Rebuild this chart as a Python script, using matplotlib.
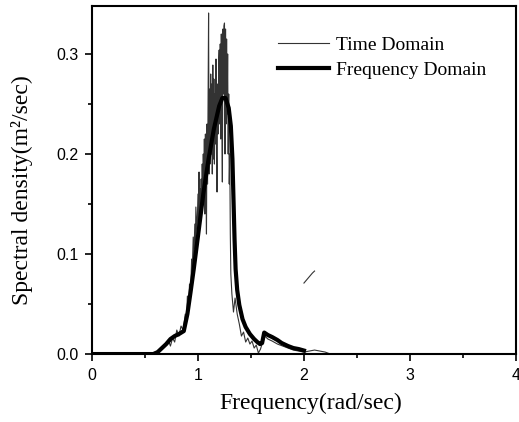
import matplotlib
matplotlib.use("Agg")
import matplotlib.pyplot as plt
from matplotlib.ticker import MultipleLocator

# Frequency-domain (thick) spectrum
freq_fd = [0.0, 0.55, 0.58, 0.62, 0.66, 0.70, 0.74, 0.78, 0.82, 0.866, 0.90, 0.93, 0.96,
           1.00, 1.05, 1.10, 1.15, 1.20, 1.23, 1.26, 1.29, 1.31, 1.325, 1.335, 1.345, 1.355,
           1.37, 1.39, 1.42, 1.45, 1.49, 1.53, 1.56, 1.585, 1.605, 1.625, 1.66, 1.70, 1.75,
           1.79, 1.85, 1.90, 1.95, 2.00]
psd_fd = [0.0, 0.0, 0.0, 0.002, 0.006, 0.010, 0.015, 0.018, 0.020, 0.023, 0.040, 0.062, 0.085,
          0.118, 0.160, 0.195, 0.225, 0.248, 0.256, 0.256, 0.246, 0.228, 0.195, 0.155, 0.115, 0.085,
          0.064, 0.049, 0.035, 0.027, 0.020, 0.015, 0.012, 0.010, 0.011, 0.0215, 0.019, 0.017,
          0.014, 0.011, 0.008, 0.006, 0.005, 0.0035]

# Time-domain (thin, noisy) spectrum
freq_td = [0.0, 0.30, 0.55, 0.60, 0.65, 0.70, 0.72, 0.74, 0.76, 0.78, 0.80, 0.82, 0.84, 0.86,
           0.88, 0.89, 0.90, 0.91, 0.92, 0.93, 0.94, 0.945, 0.955, 0.96, 0.97, 0.975, 0.98,
           0.99, 1.00, 1.005, 1.01, 1.015, 1.02, 1.025, 1.03, 1.035, 1.04, 1.045, 1.05, 1.055,
           1.06, 1.065, 1.07, 1.075, 1.08, 1.085, 1.09, 1.095, 1.10, 1.105, 1.11, 1.115, 1.12,
           1.125, 1.13, 1.135, 1.14, 1.145, 1.15, 1.155, 1.16, 1.165, 1.17, 1.175, 1.18, 1.185,
           1.19, 1.195, 1.20, 1.205, 1.21, 1.215, 1.22, 1.225, 1.23, 1.235, 1.24, 1.245, 1.25,
           1.255, 1.26, 1.265, 1.27, 1.275, 1.28, 1.285, 1.29, 1.295, 1.30, 1.305, 1.31, 1.32,
           1.335, 1.35, 1.37, 1.39, 1.41, 1.43, 1.45, 1.47, 1.49, 1.51, 1.53, 1.55, 1.57, 1.59,
           1.61, 1.63, 1.66, 1.70, 1.75, 1.80, 1.85, 1.90, 1.95, 2.00, 2.05, 2.10, 2.15, 2.20,
           2.25]
psd_td = [0.001, 0.001, 0.001, 0.002, 0.004, 0.010, 0.014, 0.008, 0.016, 0.012, 0.024, 0.018,
          0.028, 0.024, 0.040, 0.030, 0.058, 0.045, 0.070, 0.060, 0.095, 0.080, 0.117, 0.090,
          0.130, 0.105, 0.147, 0.120, 0.160, 0.125, 0.182, 0.130, 0.165, 0.140, 0.175, 0.145,
          0.190, 0.150, 0.200, 0.160, 0.215, 0.140, 0.220, 0.175, 0.120, 0.230, 0.170, 0.250,
          0.341, 0.180, 0.265, 0.190, 0.280, 0.200, 0.270, 0.180, 0.289, 0.195, 0.275, 0.190,
          0.260, 0.210, 0.295, 0.200, 0.162, 0.270, 0.220, 0.290, 0.304, 0.230, 0.310, 0.215,
          0.320, 0.240, 0.172, 0.325, 0.260, 0.328, 0.331, 0.200, 0.325, 0.230, 0.315, 0.240,
          0.300, 0.200, 0.260, 0.170, 0.200, 0.120, 0.080, 0.060, 0.042, 0.056, 0.040, 0.030,
          0.018, 0.022, 0.012, 0.016, 0.010, 0.013, 0.006, 0.009, 0.001, 0.005, 0.012, 0.018,
          0.015, 0.013, 0.010, 0.008, 0.006, 0.004, 0.003, 0.002, 0.003, 0.004, 0.003, 0.002,
          0.000]

# small stray stroke seen in the figure
stray_x = [2.00, 2.04, 2.08, 2.10]
stray_y = [0.071, 0.076, 0.081, 0.083]

x_ticks = [0, 1, 2, 3, 4]
y_ticks = [0.0, 0.1, 0.2, 0.3]

fig = plt.figure(figsize=(5.19, 4.22), dpi=100)
ax = fig.add_axes([0.1773, 0.161, 0.8167, 0.8248])

ax.plot(freq_td, psd_td, color="#333333", lw=0.8, label="Time Domain")
ax.plot(freq_fd, psd_fd, color="black", lw=3.0, label="Frequency Domain",
        solid_joinstyle="round")
ax.plot(stray_x, stray_y, color="#333333", lw=0.8)

ax.set_xlim(0, 4)
ax.set_ylim(0, 0.348)
ax.set_xticks(x_ticks)
ax.set_yticks(y_ticks)
ax.set_xticklabels([str(t) for t in x_ticks])
ax.set_yticklabels([f"{t:.1f}" for t in y_ticks])
ax.xaxis.set_minor_locator(MultipleLocator(0.5))
ax.yaxis.set_minor_locator(MultipleLocator(0.05))
ax.tick_params(which="both", direction="out", top=False, right=False, width=1.2)
ax.tick_params(which="major", length=5, labelsize=11.5, pad=5)
ax.tick_params(which="minor", length=3)
for lab in ax.get_xticklabels() + ax.get_yticklabels():
    lab.set_family("Liberation Sans")
for s in ax.spines.values():
    s.set_linewidth(1.5)

ax.set_xlabel("Frequency(rad/sec)", family="Liberation Serif", fontsize=17)
ax.set_ylabel("Spectral density(m²/sec)", family="Liberation Serif", fontsize=17)
ax.xaxis.set_label_coords(0.515, -0.11)
ax.yaxis.set_label_coords(-0.14, 0.47)

leg = ax.legend(loc="upper left", bbox_to_anchor=(0.417, 0.94), frameon=False,
                prop={"family": "Liberation Serif", "size": 14},
                handlelength=2.6, handletextpad=0.35, labelspacing=0.35,
                borderpad=0.0)

fig.savefig("out.png", dpi=100)
